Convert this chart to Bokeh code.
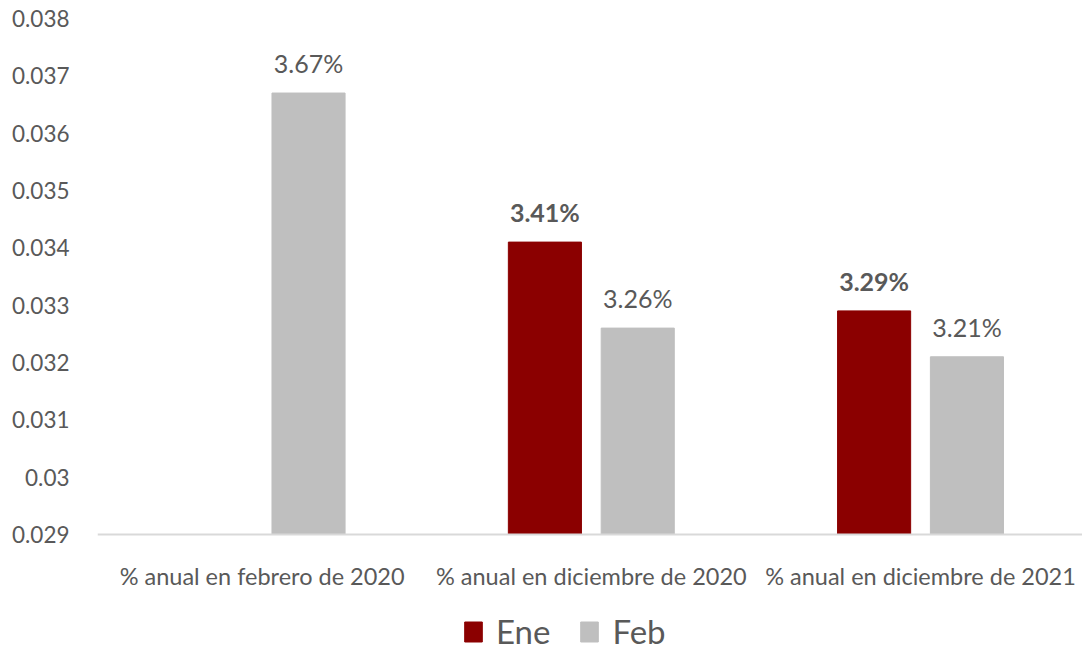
import numpy as np
from bokeh.plotting import figure
from bokeh.models import Range1d, FixedTicker, Legend, LegendItem, ColumnDataSource, Span
from bokeh.core.properties import value
from bokeh.embed import file_html
from bokeh.resources import INLINE

categories = ["% anual en febrero de 2020",
              "% anual en diciembre de 2020",
              "% anual en diciembre de 2021"]
series = ["Ene", "Feb"]
ene = [np.nan, 0.0341, 0.0329]
feb = [0.0367, 0.0326, 0.0321]
ene_labels = ["", "3.41%", "3.29%"]
feb_labels = ["3.67%", "3.26%", "3.21%"]
y_ticks = [0.029, 0.030, 0.031, 0.032, 0.033, 0.034, 0.035, 0.036, 0.037, 0.038]
y_tick_labels = ["0.029", "0.03", "0.031", "0.032", "0.033", "0.034",
                 "0.035", "0.036", "0.037", "0.038"]
colors = ["#8B0000", "#BFBFBF"]

FONT = "Lato"
TXT = "#595959"
OFF = 0.141
BW = 0.222
BASE = y_ticks[0]
TOP = y_ticks[-1]
# the frame extends below the value axis to leave room for labels and legend
Y0 = TOP - (TOP - BASE) * 633 / 516

idx = np.arange(len(categories))
src_ene = ColumnDataSource(dict(x=idx - OFF, top=np.array(ene, dtype=float), lab=ene_labels))
src_feb = ColumnDataSource(dict(x=idx + OFF, top=np.array(feb, dtype=float), lab=feb_labels))
src_cat = ColumnDataSource(dict(x=idx, y=[BASE] * len(idx), lab=categories))

p = figure(width=1082, height=651, output_backend="svg", toolbar_location=None,
           x_range=Range1d(-0.5, 2.492), y_range=Range1d(Y0, TOP),
           min_border_left=97, min_border_right=0, min_border_top=18, min_border_bottom=0)
p.outline_line_color = None
p.xgrid.visible = False
p.ygrid.visible = False
p.xaxis.visible = False
p.background_fill_color = "white"

p.add_layout(Span(location=BASE, dimension="width", line_color="#D9D9D9", line_width=2))

r1 = p.vbar(x="x", top="top", bottom=BASE, width=BW, source=src_ene,
            fill_color=colors[0], line_color=colors[0])
r2 = p.vbar(x="x", top="top", bottom=BASE, width=BW, source=src_feb,
            fill_color=colors[1], line_color=colors[1])

p.text(x="x", y="top", text="lab", source=src_ene, text_align="center",
       text_baseline="middle", y_offset=-30, text_font=value(FONT),
       text_font_size="25px", text_font_style="bold", text_color=TXT)
p.text(x="x", y="top", text="lab", source=src_feb, text_align="center",
       text_baseline="middle", y_offset=-30, text_font=value(FONT),
       text_font_size="25px", text_color=TXT)

# category labels under the baseline
p.text(x="x", y="y", text="lab", source=src_cat, text_align="center",
       text_baseline="middle", y_offset=41, text_font=value(FONT),
       text_font_size="23.5px", text_color=TXT)

ya = p.yaxis[0]
ya.ticker = FixedTicker(ticks=y_ticks)
ya.major_label_overrides = {t: l for t, l in zip(y_ticks, y_tick_labels)}
ya.axis_line_color = None
ya.major_tick_line_color = None
ya.minor_tick_line_color = None
ya.major_label_standoff = 22
ya.major_label_text_font = FONT
ya.major_label_text_font_size = "22.5px"
ya.major_label_text_color = TXT

legend = Legend(items=[LegendItem(label=series[0], renderers=[r1]),
                       LegendItem(label=series[1], renderers=[r2])],
                orientation="horizontal", location=(365, 0),
                border_line_color=None, background_fill_alpha=0,
                label_text_font=FONT, label_text_font_size="33px",
                label_text_color=TXT, glyph_width=22, glyph_height=25,
                label_standoff=12, spacing=28, padding=0, margin=0)
p.add_layout(legend, "center")

open("out.html", "w").write(file_html(p, INLINE))
